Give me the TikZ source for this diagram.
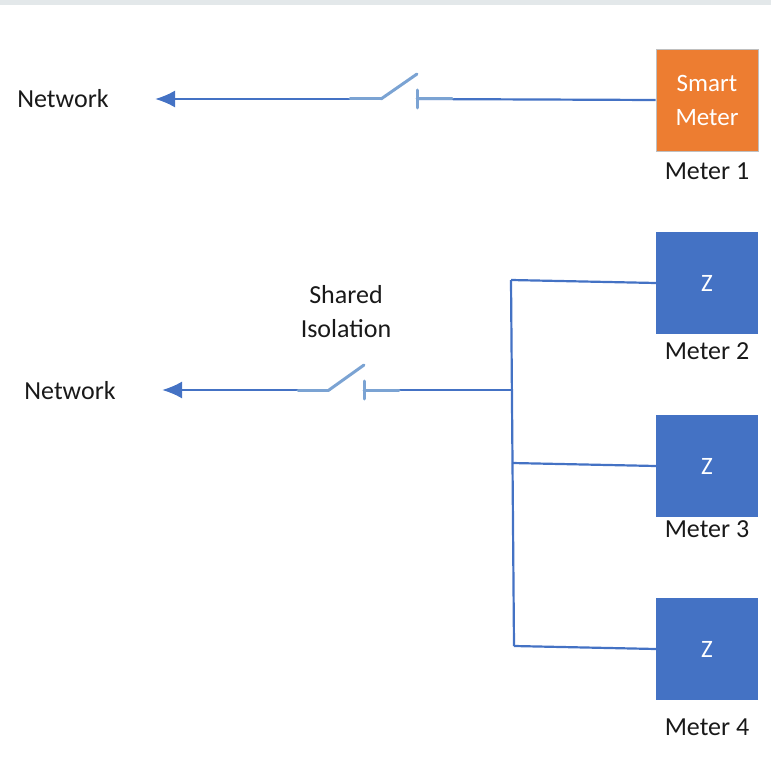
\documentclass[tikz,border=0pt]{standalone}
\usepackage{fontspec}
\setmainfont{Carlito}
\usetikzlibrary{arrows.meta}
\definecolor{wireblue}{HTML}{4472C4}
\definecolor{switchblue}{HTML}{7BA3D3}
\definecolor{meterorange}{HTML}{ED7D31}
\definecolor{topbar}{HTML}{E3E8EA}
\tikzset{
  meterbox/.style={minimum width=102pt,minimum height=102pt,inner sep=0pt,
    align=center,text=white,font=\fontsize{25}{34}\selectfont},
  zbox/.style={meterbox,fill=wireblue},
  smartbox/.style={meterbox,fill=meterorange,draw=black!25,line width=0.8pt},
  label/.style={font=\fontsize{26}{34}\selectfont,text=black!90,inner sep=0pt,align=center},
  wire/.style={draw=wireblue,line width=2.2pt},
  feed/.style={wire,-{Latex[length=20pt,width=17pt]}},
  blade/.style={draw=switchblue,line width=3pt,line cap=round},
}
\begin{document}
\begin{tikzpicture}[x=1pt,y=-1pt]
  \useasboundingbox (0,0) rectangle (771,762);
  \fill[topbar] (0,0) rectangle (771,5);
  \draw
    (707,100) node[smartbox] (m1){Smart\\Meter}
    (707,283) node[zbox] (m2){Z}
    (707,466) node[zbox] (m3){Z}
    (707,649) node[zbox] (m4){Z};
  \draw
    (707,171) node[label] (l1){Meter 1}
    (707,351) node[label] (l2){Meter 2}
    (707,529) node[label] (l3){Meter 3}
    (707,727) node[label] (l4){Meter 4}
    (63,99) node[label] (n1){Network}
    (70,391) node[label] (n2){Network}
    (346,312) node[label] (iso){Shared\\Isolation};
  \coordinate (tip1) at (155,99);
  \coordinate (hinge1) at (381,99);
  \coordinate (free1) at (417,74);
  \coordinate (post1) at (417,99);
  \coordinate (tip2) at (162,390);
  \coordinate (hinge2) at (329,390);
  \coordinate (free2) at (364,365);
  \coordinate (post2) at (364,390);
  \coordinate (bustop) at (511,280);
  \coordinate (busa) at (512,390);
  \coordinate (busb) at (512,463);
  \coordinate (busend) at (514,646);
  \begin{scope}
    \draw[wire] (m1.west) -- (post1);
    \draw[feed] (hinge1) -- (tip1);
    \draw[wire] (busa) -- (post2);
    \draw[feed] (hinge2) -- (tip2);
    \draw[wire] (bustop) -- (busend);
    \draw[wire] (bustop) -- (m2.west);
    \draw[wire] (busb) -- (m3.west);
    \draw[wire] (busend) -- (m4.west);
  \end{scope}
  \begin{scope}
    \draw[blade] (hinge1) -- (free1);
    \draw[blade] (hinge1) -- +(-31,0);
    \draw[blade] (post1) -- +(35,0);
    \draw[blade] ([yshift=-9pt]post1) -- ([yshift=9pt]post1);
    \draw[blade] (hinge2) -- (free2);
    \draw[blade] (hinge2) -- +(-31,0);
    \draw[blade] (post2) -- +(35,0);
    \draw[blade] ([yshift=-9pt]post2) -- ([yshift=9pt]post2);
  \end{scope}
\end{tikzpicture}
\end{document}
